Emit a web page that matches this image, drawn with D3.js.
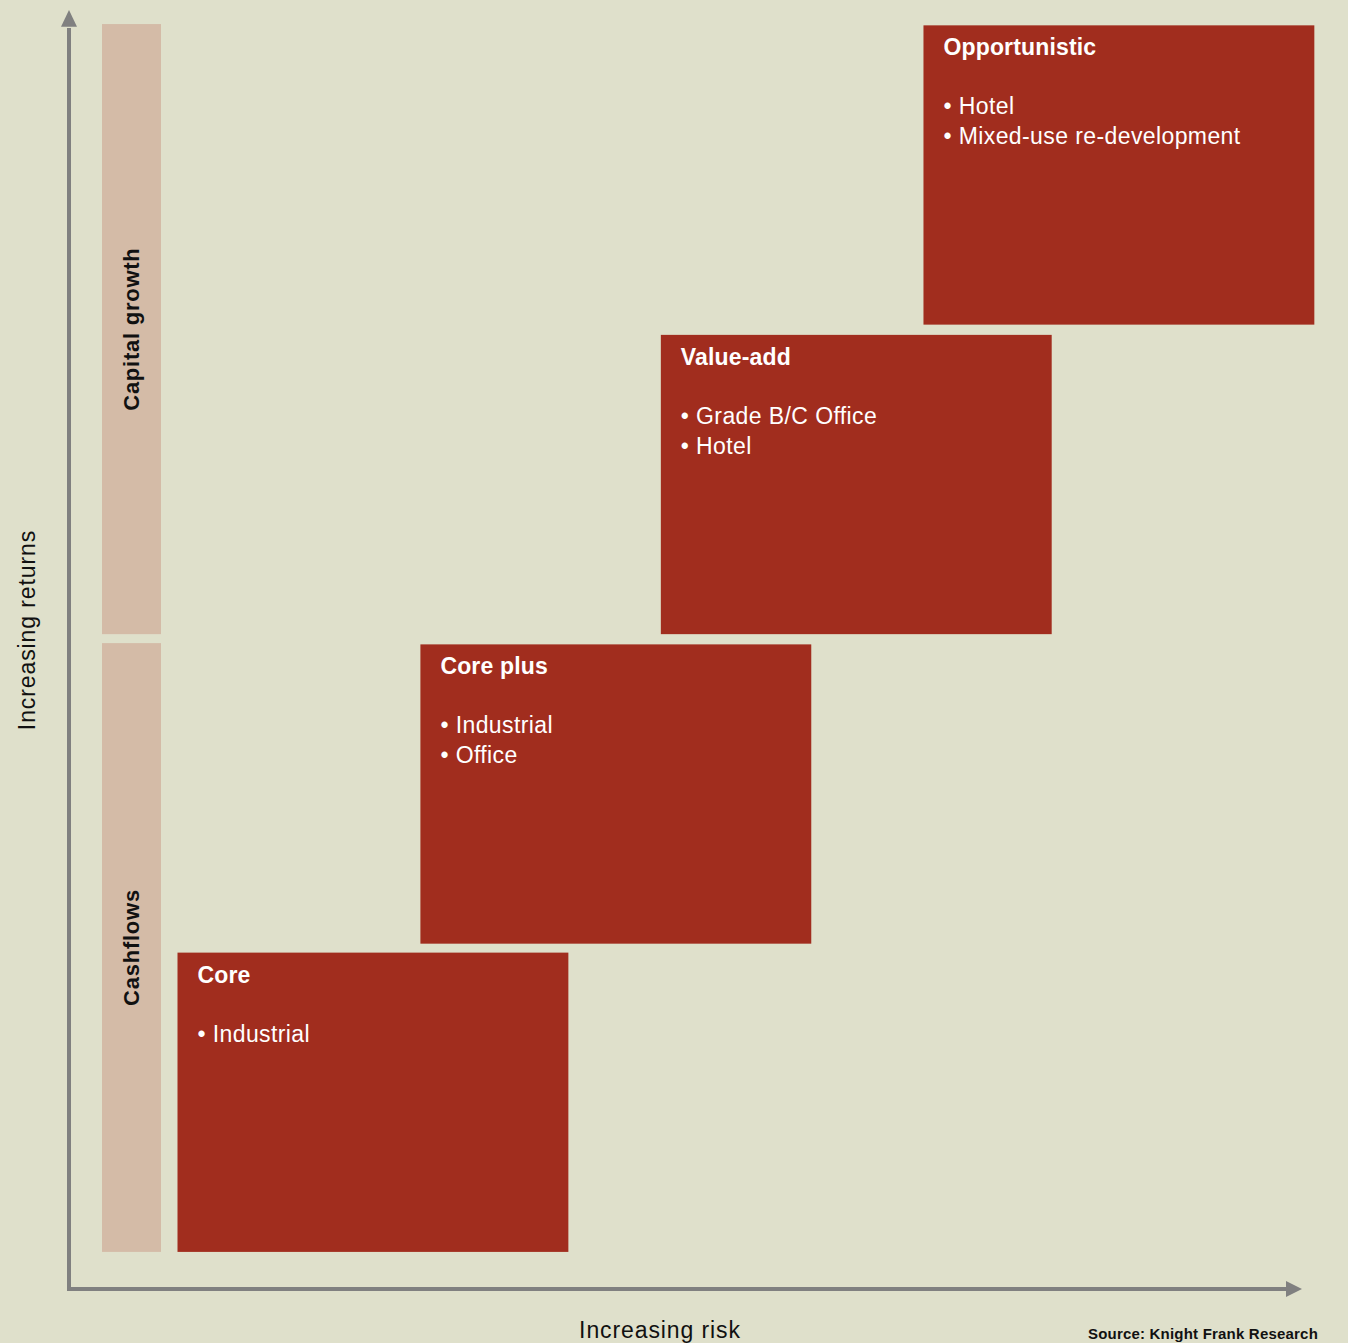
<!DOCTYPE html>
<html>
<head>
<meta charset="utf-8">
<script src="https://cdn.jsdelivr.net/npm/d3@7"></script>
<style>
  html, body { margin: 0; padding: 0; background: #dfe0cb; }
  svg { display: block; }
</style>
</head>
<body>
<div id="chart"></div>
<script>
// strategies, from low risk to high risk
const strategies = ['Core', 'Core plus', 'Value-add', 'Opportunistic'];
const strategyItems = [
    ['Industrial'],
    ['Industrial', 'Office'],
    ['Grade B/C Office', 'Hotel'],
    ['Hotel', 'Mixed-use re-development']
];
// where each box sits on the risk (x) and return (y) axes, 0..100
const riskStart = [8.8, 28.5, 48.0, 69.3];
const riskEnd = [40.5, 60.2, 79.7, 101.0];
const returnStart = [2.9, 27.0, 51.2, 75.4];
const returnEnd = [26.3, 50.4, 74.6, 98.8];

// return bands on the left
const bands = ['Cashflows', 'Capital growth'];
const bandStart = [2.9, 51.2];
const bandEnd = [50.5, 98.9];

const xLabel = 'Increasing risk',
    yLabel = 'Increasing returns',
    source = 'Source: Knight Frank Research';

const bgColor = '#dfe0cb',
    boxColor = '#a12d1e',
    bandColor = '#d4bba7',
    axisColor = '#808080',
    fontFamily = '"Liberation Sans", Arial, sans-serif';

const width = 1348,
    height = 1343;

const svg = d3.select('#chart')
    .append('svg')
    .attr('width', width)
    .attr('height', height)
    .style('background-color', bgColor);

// axis origin at (69, 1289), arrows reach to 1302 / 10
const x = d3.scaleLinear().domain([0, 100]).range([69, 1302]);
const y = d3.scaleLinear().domain([0, 100]).range([1289, 10]);

// return bands
const bandG = svg.append('g');
bandG.selectAll('rect')
    .data(bands)
    .enter()
    .append('rect')
    .attr('x', 102)
    .attr('width', 59)
    .attr('y', (d, i) => y(bandEnd[i]))
    .attr('height', (d, i) => y(bandStart[i]) - y(bandEnd[i]))
    .attr('fill', bandColor);

bandG.selectAll('text')
    .data(bands)
    .enter()
    .append('text')
    .attr('transform', (d, i) => 'translate(131,' + y((bandStart[i] + bandEnd[i]) / 2) + ') rotate(-90)')
    .attr('text-anchor', 'middle')
    .attr('dy', '0.35em')
    .style('font-family', fontFamily)
    .style('font-weight', 'bold')
    .style('font-size', '22px')
    .style('letter-spacing', '0.75px')
    .style('fill', '#111')
    .text(d => d);

// strategy boxes
const boxes = svg.selectAll('g.box')
    .data(strategies)
    .enter()
    .append('g')
    .attr('class', 'box')
    .attr('transform', (d, i) => 'translate(' + x(riskStart[i]) + ',' + y(returnEnd[i]) + ')');

boxes.append('rect')
    .attr('width', (d, i) => x(riskEnd[i]) - x(riskStart[i]))
    .attr('height', (d, i) => y(returnStart[i]) - y(returnEnd[i]))
    .attr('fill', boxColor);

boxes.append('text')
    .attr('x', 20)
    .attr('y', 30)
    .style('font-family', fontFamily)
    .style('font-weight', 'bold')
    .style('font-size', '23px')
    .style('letter-spacing', '0.15px')
    .style('fill', '#fff')
    .text(d => d);

boxes.each(function (d, i) {
    d3.select(this).selectAll('text.item')
        .data(strategyItems[i])
        .enter()
        .append('text')
        .attr('class', 'item')
        .attr('x', 20)
        .attr('y', (t, j) => 89 + j * 30)
        .style('font-family', fontFamily)
        .style('font-size', '23px')
        .style('letter-spacing', '0.4px')
        .style('fill', '#fff')
        .text(t => '\u2022 ' + t);
});

// axes with arrow heads
const axisG = svg.append('g');
axisG.append('path')
    .attr('d', 'M' + x(0) + ',' + y(98.6) + 'V' + y(0) + 'H' + x(98.8))
    .attr('fill', 'none')
    .attr('stroke', axisColor)
    .attr('stroke-width', 4);

axisG.append('path')
    .attr('d', 'M' + x(0) + ',' + y(100) + 'L' + (x(0) - 8) + ',' + y(98.7) + 'L' + (x(0) + 8) + ',' + y(98.7) + 'Z')
    .attr('fill', axisColor);

axisG.append('path')
    .attr('d', 'M' + x(100) + ',' + y(0) + 'L' + x(98.7) + ',' + (y(0) - 8) + 'L' + x(98.7) + ',' + (y(0) + 8) + 'Z')
    .attr('fill', axisColor);

// axis labels
svg.append('text')
    .attr('x', 660)
    .attr('y', 1338)
    .attr('text-anchor', 'middle')
    .style('font-family', fontFamily)
    .style('font-size', '23px')
    .style('letter-spacing', '0.9px')
    .style('fill', '#111')
    .text(xLabel);

svg.append('text')
    .attr('transform', 'translate(35,630) rotate(-90)')
    .attr('text-anchor', 'middle')
    .style('font-family', fontFamily)
    .style('font-size', '23px')
    .style('letter-spacing', '0.9px')
    .style('fill', '#111')
    .text(yLabel);

svg.append('text')
    .attr('x', 1318)
    .attr('y', 1339)
    .attr('text-anchor', 'end')
    .style('font-family', fontFamily)
    .style('font-weight', 'bold')
    .style('font-size', '15px')
    .style('letter-spacing', '0.2px')
    .style('fill', '#111')
    .text(source);
</script>
</body>
</html>
